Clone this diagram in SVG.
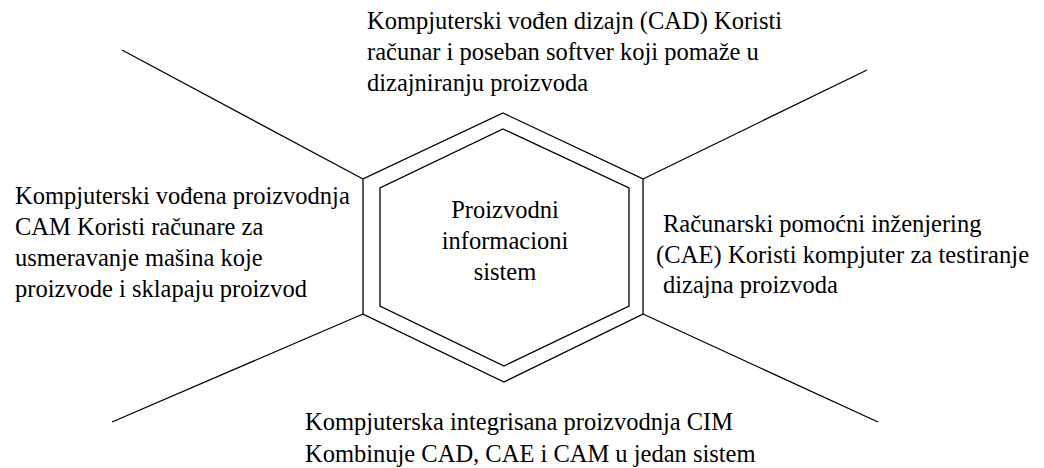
<svg xmlns="http://www.w3.org/2000/svg" width="1044" height="468" viewBox="0 0 1044 468">
<style>
.ln{fill:none;stroke:#000;stroke-width:1.3;stroke-linejoin:miter}
text{font-size:24.5px;fill:#000}
.c{text-anchor:middle}
#hub text{font-family:serif}
#cad text{font-family:serif}
#cam text{font-family:serif}
#cae text{font-family:serif}
#cim text{font-family:serif}
</style>
<rect width="1044" height="468" fill="#fff"/>
<g id="connectors">
<line class="ln" x1="122" y1="50" x2="363" y2="179"/>
<line class="ln" x1="867" y1="70" x2="643" y2="179"/>
<line class="ln" x1="112" y1="422" x2="363" y2="314"/>
<line class="ln" x1="878" y1="422" x2="643" y2="314"/>
</g>
<g id="hub">
<polygon class="ln" points="503,113 643,179 643,314 504,382 363,314 363,179"/>
<polygon class="ln" points="503,129 629,188 629,306 504,366 380,306 380,188"/>
<text class="c" x="505" y="218">Proizvodni</text>
<text class="c" x="505" y="249">informacioni</text>
<text class="c" x="505" y="280">sistem</text>
</g>
<g id="cad">
<text x="367" y="29">Kompjuterski vođen dizajn (CAD) Koristi</text>
<text x="367" y="60">računar i poseban softver koji pomaže u</text>
<text x="367" y="91">dizajniranju proizvoda</text>
</g>
<g id="cam">
<text x="15" y="204">Kompjuterski vođena proizvodnja</text>
<text x="15" y="235">CAM Koristi računare za</text>
<text x="15" y="266">usmeravanje mašina koje</text>
<text x="15" y="297">proizvode i sklapaju proizvod</text>
</g>
<g id="cae">
<text x="663" y="232">Računarski pomoćni inženjering</text>
<text x="656" y="263" textLength="373" lengthAdjust="spacing">(CAE) Koristi kompjuter za testiranje</text>
<text x="663" y="293">dizajna proizvoda</text>
</g>
<g id="cim">
<text x="305" y="430">Kompjuterska integrisana proizvodnja CIM</text>
<text x="305" y="462">Kombinuje CAD, CAE i CAM u jedan sistem</text>
</g>
</svg>
